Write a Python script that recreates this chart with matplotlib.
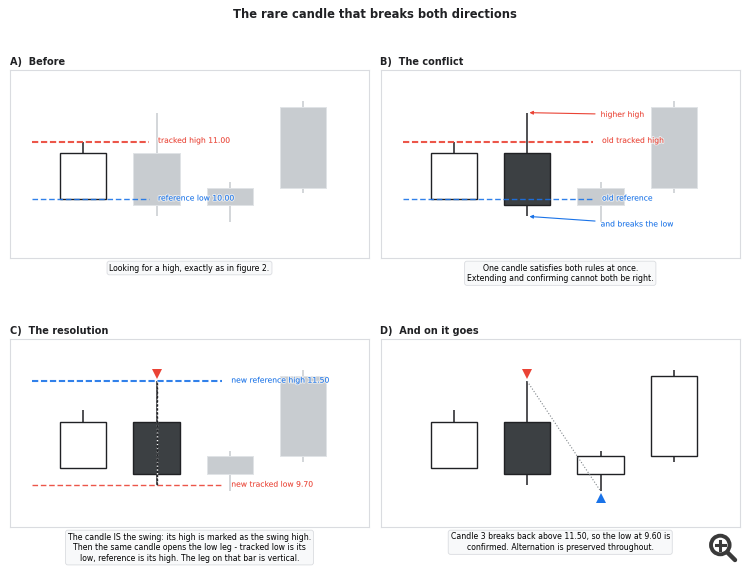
import matplotlib
matplotlib.use("Agg")
import matplotlib.pyplot as plt
import matplotlib.patheffects as pe
from matplotlib.patches import Rectangle, Circle
from matplotlib.lines import Line2D

opens = [10.0, 10.8, 9.9, 10.2]
closes = [10.8, 9.9, 10.2, 11.6]
highs = [11.0, 11.5, 10.3, 11.7]
lows = [10.0, 9.7, 9.6, 10.1]

title = "The rare candle that breaks both directions"
panel_titles = ["A)  Before", "B)  The conflict", "C)  The resolution", "D)  And on it goes"]
captions = [
    "Looking for a high, exactly as in figure 2.",
    "One candle satisfies both rules at once.\nExtending and confirming cannot both be right.",
    "The candle IS the swing: its high is marked as the swing high.\nThen the same candle opens the low leg - tracked low is its\nlow, reference is its high. The leg on that bar is vertical.",
    "Candle 3 breaks back above 11.50, so the low at 9.60 is\nconfirmed. Alternation is preserved throughout.",
]
RED = "#ea4335"
BLUE = "#1a73e8"
INK = "#202124"
DARK = "#3c4043"
GREY = "#c8ccd0"
SPINE = "#dadce0"
W, H = 750, 574
HALO = [pe.withStroke(linewidth=1.5, foreground="white", alpha=0.6)]
fig = plt.figure(figsize=(7.5, 5.74), dpi=100, facecolor="white")
boxes = [(10, 70, 359, 188), (380.5, 70, 359.5, 188), (10, 338.5, 359, 188.5), (380.5, 338.5, 359.5, 188.5)]
axes = []
for (x, y, w, h), t in zip(boxes, panel_titles):
    ax = fig.add_axes([x / W, 1 - (y + h) / H, w / W, h / H])
    ax.set_xlim(-1, 3.9)
    ax.set_ylim(8.98, 12.24)
    ax.set_xticks([])
    ax.set_yticks([])
    for s in ax.spines.values():
        s.set_color(SPINE)
        s.set_linewidth(0.8)
    ax.set_title(t, loc="left", fontsize=7, fontweight="bold", color=INK, pad=3.3)
    axes.append(ax)
fig.text(375 / W, 1 - 14 / H, title, ha="center", va="center", fontsize=8.3, fontweight="bold", color=INK)

def candle(ax, i, state):
    o, c, hi, lo = opens[i], closes[i], highs[i], lows[i]
    bottom, top = min(o, c), max(o, c)
    if state == "muted":
        face, edge, wick = GREY, "#e0e3e6", GREY
    else:
        face = DARK if c < o else "white"
        edge, wick = INK, INK
    ax.plot([i, i], [top, hi], color=wick, lw=1.1, zorder=2, solid_capstyle="butt")
    ax.plot([i, i], [lo, bottom], color=wick, lw=1.1, zorder=2, solid_capstyle="butt")
    ax.add_patch(Rectangle((i - 0.315, bottom), 0.63, top - bottom, facecolor=face, edgecolor=edge,
                           lw=1.0 if state != "muted" else 0.7, zorder=3))

states = [
    ["on", "muted", "muted", "muted"],
    ["on", "on", "muted", "muted"],
    ["on", "on", "muted", "muted"],
    ["on", "on", "on", "on"],
]
for ax, st in zip(axes, states):
    for i, s in enumerate(st):
        candle(ax, i, s)

def level(ax, y, x1, color, lw, label, tx):
    ax.plot([-0.7, x1], [y, y], color=color, lw=lw, ls=(0, (3, 1.3)) if lw > 1.2 else (0, (4, 2)), zorder=4, alpha=0.9)
    ax.text(tx, y + 0.02, label, color=color, fontsize=5.5, va="center", ha="left", zorder=6, path_effects=HALO)

a, b, c, d = axes
level(a, 11.0, 0.9, RED, 1.5, "tracked high 11.00", 1.02)
level(a, 10.0, 0.9, BLUE, 1.0, "reference low 10.00", 1.02)
level(b, 11.0, 1.9, RED, 1.5, "old tracked high", 2.02)
level(b, 10.0, 1.9, BLUE, 1.0, "old reference", 2.02)
for ax, y, lab, ytext, col in [(b, 11.5, "higher high", 11.47, RED), (b, 9.7, "and breaks the low", 9.57, BLUE)]:
    ax.annotate(lab, xy=(1.03, y), xytext=(2.0, ytext), color=col, fontsize=5.5, va="center", ha="left", zorder=6,
                path_effects=HALO,
                arrowprops=dict(arrowstyle="-|>", color=col, lw=0.8, mutation_scale=5, shrinkA=2, shrinkB=0))
level(c, 11.5, 1.9, BLUE, 1.5, "new reference high 11.50", 2.02)
level(c, 9.7, 1.9, RED, 1.0, "new tracked low 9.70", 2.02)
c.plot([1, 1], [9.7, 11.5], color="white", lw=1.0, ls=":", zorder=5)
c.plot([1, 1], [9.7, 11.5], color=INK, lw=1.0, ls=(0, (1.5, 1.5)), zorder=5)
c.plot([1], [11.63], marker="v", color=RED, ms=6.5, zorder=7, mew=0)
d.plot([1], [11.63], marker="v", color=RED, ms=6.5, zorder=7, mew=0)
d.plot([2], [9.48], marker="^", color=BLUE, ms=6.5, zorder=7, mew=0)
d.plot([1, 2], [11.5, 9.6], color="#80868b", lw=0.8, ls=":", zorder=5)

for (x, y, w, h), cap in zip(boxes, captions):
    fig.text((x + w / 2) / W, 1 - (y + h + 5.5) / H, cap, ha="center", va="top", fontsize=5.6, color="black",
             linespacing=1.22,
             bbox=dict(boxstyle="round,pad=0.3", facecolor="#f8f9fa", edgecolor=SPINE, lw=0.6))

# magnifier icon in the bottom-right corner
ic = "#3a3a3a"
fig.add_artist(Line2D([728 / W, 735 / W], [1 - 553 / H, 1 - 560 / H], color=ic, lw=3.2, solid_capstyle="round"))
fig.add_artist(Circle((720.3, (1 - 545 / H) * H), 9.3, transform=None, facecolor="white", edgecolor=ic, lw=2.8))
fig.add_artist(Line2D([715.5 / W, 725 / W], [1 - 545 / H, 1 - 545 / H], color=ic, lw=2.2))
fig.add_artist(Line2D([720.3 / W, 720.3 / W], [1 - 540.5 / H, 1 - 549.5 / H], color=ic, lw=2.2))

fig.savefig("out.png", dpi=100, facecolor="white")
